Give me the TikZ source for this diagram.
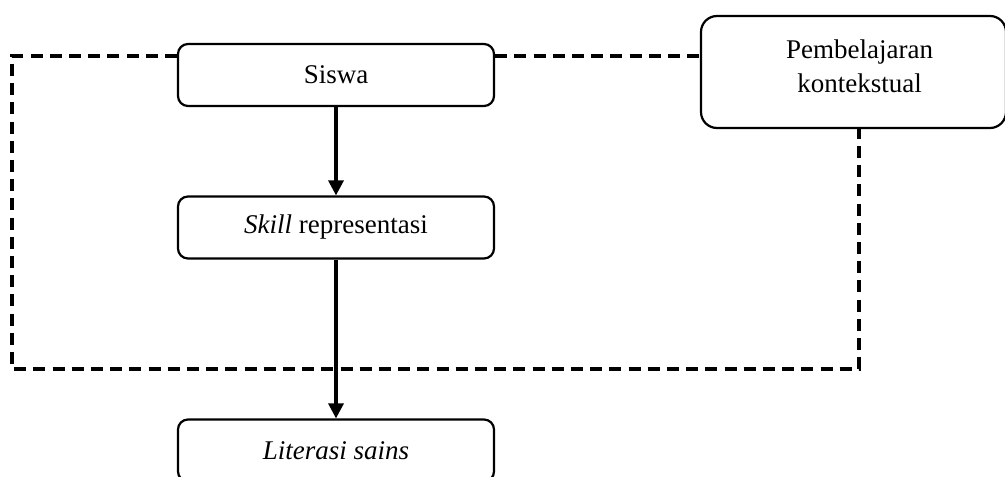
\documentclass[tikz,border=0pt]{standalone}
\usepackage{fontspec}
\setmainfont{Liberation Serif}
\usetikzlibrary{arrows.meta}
\begin{document}
\begin{tikzpicture}[x=0.5pt,y=-0.5pt,
  box/.style={draw=black,line width=1.1pt,rounded corners=5pt,minimum width=158pt,minimum height=31pt,inner sep=0pt,font=\fontsize{13.5}{17}\selectfont},
  bigbox/.style={draw=black,line width=1.1pt,rounded corners=8pt,minimum width=152.5pt,minimum height=56pt,inner sep=0pt,align=center,font=\fontsize{13.5}{17}\selectfont},
  flow/.style={line width=1.6pt,-{Triangle[length=7.5pt,width=7.5pt]}},
  dashline/.style={line width=1.6pt,dash pattern=on 6pt off 3.6pt}
]
\useasboundingbox (0,0) rectangle (1005,476);
\node[box] (siswa) at (336,75) {Siswa};
\node[box] (skill) at (336,227.5) {\textit{Skill} representasi};
\node[box] (lit) at (336,450.5) {\textit{Literasi sains}};
\node[bigbox] (pemb) at (853.5,72) {\hspace*{6pt}Pembelajaran\\\hspace*{6pt}kontekstual\\[-11pt]};
\coordinate (tl) at (12,56);
\coordinate (bl) at (12,369);
\coordinate (br) at (859,369);
\draw[dashline] (siswa.west |- tl) -- (tl) -- (bl) -- (br) -- (br |- pemb.south);
\draw[dashline] (siswa.east |- tl) -- (pemb.west |- tl);
\draw[flow] (siswa) -- (skill);
\draw[flow] (skill) -- (lit);
\end{tikzpicture}
\end{document}
